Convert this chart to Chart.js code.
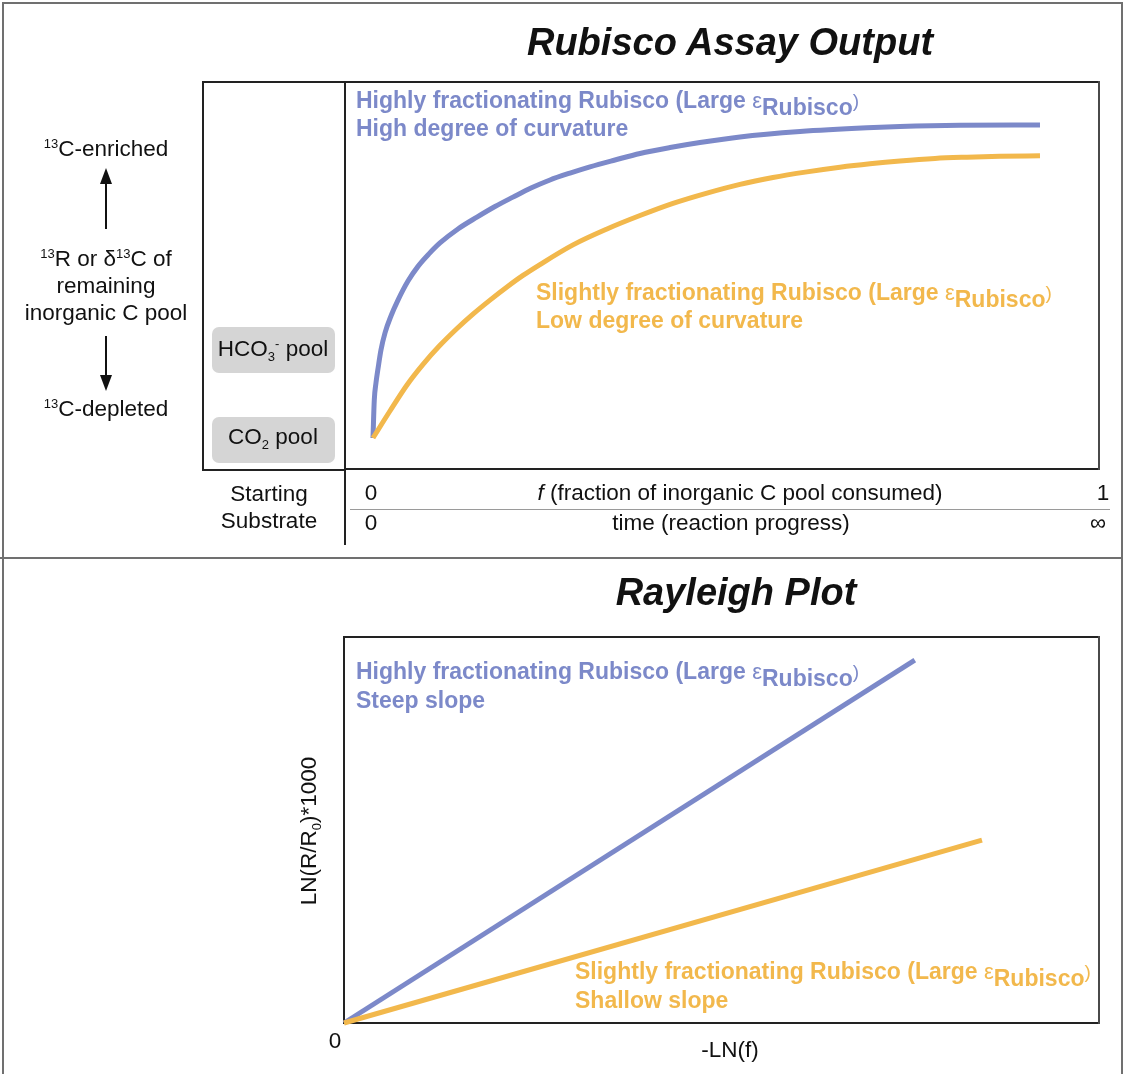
<!DOCTYPE html>
<html>
<head>
<meta charset="utf-8">
<script src="https://cdn.jsdelivr.net/npm/chart.js@4.4.1/dist/chart.umd.min.js"></script>
<style>
  body { margin: 0; background: #fff; }
  #wrap { position: relative; width: 1123px; height: 1074px; overflow: hidden; background: #fff;
          font-family: "Liberation Sans", Arial, Helvetica, sans-serif; color: #111; }
  canvas { position: absolute; left: 0; }
  .t { position: absolute; white-space: nowrap; line-height: 1; }
  .ln { position: absolute; }
  .pool { position: absolute; background: #d5d5d5; border-radius: 7px; }
  .eps { font-weight: normal; font-size: 22px; }
  .rsub { position: relative; top: 7px; }
  .par { font-weight: normal; font-size: 19px; position: relative; top: -1px; }
  .sup { font-size: 13px; position: relative; top: -8px; }
  .sub { font-size: 13px; position: relative; top: 5px; }
</style>
</head>
<body>
<div id="wrap">
  <div class="ln" style="left:2px;top:2px;width:1117px;height:1090px;border:2px solid #707070;"></div>
  <div class="ln" style="left:0;top:557px;width:1123px;height:2px;background:#707070;"></div>
  <div class="ln" style="left:202px;top:81px;width:141px;height:386px;border:2px solid #222;border-right:none;"></div>
  <div class="ln" style="left:344px;top:469px;width:2px;height:76px;background:#222;"></div>
  <div class="ln" style="left:350px;top:509px;width:760px;height:1px;background:#9a9a9a;"></div>
  <div class="pool" style="left:212px;top:327px;width:123px;height:46px;"></div>
  <div class="pool" style="left:212px;top:417px;width:123px;height:46px;"></div>
  <svg class="ln" style="left:0;top:0" width="220" height="420">
    <line x1="106" y1="229" x2="106" y2="180" stroke="#111" stroke-width="2"/>
    <polygon points="106,168 100,184 112,184" fill="#111"/>
    <line x1="106" y1="336" x2="106" y2="378" stroke="#111" stroke-width="2"/>
    <polygon points="106,391 100,375 112,375" fill="#111"/>
  </svg>
  <canvas id="assay" width="1123" height="559" style="top:0"></canvas>
  <canvas id="rayleigh" width="1123" height="515" style="top:559px"></canvas>
</div>
<script>
// f (fraction of inorganic C pool consumed) vs remaining pool isotope value (arbitrary units)
const fHigh = [0, 0.0018, 0.0041, 0.0073, 0.0110, 0.0166, 0.0248, 0.0345, 0.0483, 0.0621, 0.0772, 0.0924,
               0.1172, 0.1434, 0.1683, 0.1931, 0.2179, 0.2441, 0.2717, 0.2993, 0.3338, 0.3683, 0.4097,
               0.4510, 0.5062, 0.5890, 0.6814, 0.7269, 0.8097, 0.92];
const deltaHigh = [0, 12.2, 17.6, 22.8, 28.2, 33.7, 39.1, 44.2, 50.3, 55.0, 59.0, 62.5,
                   67.0, 70.8, 74.2, 77.2, 80.1, 82.7, 84.9, 86.9, 89.1, 91.2, 93.1,
                   94.7, 96.5, 98.2, 99.4, 99.8, 100.2, 100.3];
const fLow = [0, 0.0234, 0.0469, 0.0690, 0.0924, 0.1159, 0.1379, 0.1614, 0.1848, 0.2069, 0.2303, 0.2759,
              0.3228, 0.3683, 0.4138, 0.4607, 0.5062, 0.5517, 0.5986, 0.6441, 0.6855, 0.7269, 0.7752,
              0.8193, 0.8648, 0.92];
const deltaLow = [0, 8.65, 17.0, 23.6, 29.7, 35.1, 39.7, 44.2, 48.4, 52.1, 55.6, 61.9,
                  67.0, 71.3, 75.2, 78.5, 81.3, 83.5, 85.3, 86.8, 87.9, 88.8, 89.6,
                  90.0, 90.3, 90.45];

// Rayleigh plot: -LN(f) vs LN(R/R0)*1000 (arbitrary units)
const lnfHigh = [0, 0.756];
const lnRHigh = [0, 0.940];
const lnfLow = [0, 0.845];
const lnRLow = [0, 0.474];

const fTickLabels = ['0', '1'];
const timeTickLabels = ['0', '\u221e'];

const BLUE = '#7c89c9';
const ORANGE = '#f2b84c';

function pts(xs, ys) {
    return xs.map((x, i) => ({ x: x, y: ys[i] }));
}

const boxBorder = {
    id: 'boxBorder',
    beforeDatasetsDraw(chart) {
        const a = chart.chartArea;
        const ctx = chart.ctx;
        ctx.save();
        ctx.lineWidth = 2;
        ctx.strokeStyle = '#222';
        ctx.beginPath();
        ctx.moveTo(a.right, a.top);
        ctx.lineTo(a.left, a.top);
        ctx.lineTo(a.left, a.bottom);
        ctx.lineTo(a.right, a.bottom);
        ctx.stroke();
        ctx.strokeStyle = '#4a4a4a';
        ctx.beginPath();
        ctx.moveTo(a.right, a.top - 1);
        ctx.lineTo(a.right, a.bottom + 1);
        ctx.stroke();
        ctx.restore();
    }
};

function lineSet(data, color, order) {
    return {
        data: data,
        borderColor: color,
        borderWidth: 5,
        pointRadius: 0,
        fill: false,
        cubicInterpolationMode: 'monotone',
        borderCapStyle: 'butt',
        clip: 8,
        order: order
    };
}

function baseOptions(pad, xr, yr) {
    return {
        responsive: false,
        animation: false,
        events: [],
        layout: { padding: pad },
        plugins: { legend: { display: false }, tooltip: { enabled: false } },
        scales: {
            x: { type: 'linear', display: false, min: xr[0], max: xr[1] },
            y: { type: 'linear', display: false, min: yr[0], max: yr[1] }
        }
    };
}

new Chart(document.getElementById('assay'), {
    type: 'line',
    data: {
        datasets: [
            lineSet(pts(fHigh, deltaHigh), BLUE, 2),
            lineSet(pts(fLow, deltaLow), ORANGE, 1)
        ]
    },
    options: baseOptions({ left: 345, right: 24, top: 82, bottom: 90 }, [-0.0386, 1.0014], [-9.94, 114.1]),
    plugins: [boxBorder]
});

new Chart(document.getElementById('rayleigh'), {
    type: 'line',
    data: {
        datasets: [
            lineSet(pts(lnfHigh, lnRHigh), BLUE, 2),
            lineSet(pts(lnfLow, lnRLow), ORANGE, 1)
        ]
    },
    options: baseOptions({ left: 344, right: 24, top: 78, bottom: 51 }, [0, 1], [0, 1]),
    plugins: [boxBorder]
});

// text labels
const wrap = document.getElementById('wrap');
function addText(html, x, baseline, size, opts) {
    opts = opts || {};
    const d = document.createElement('div');
    d.className = 't';
    d.innerHTML = html;
    d.style.fontSize = size + 'px';
    d.style.left = x + 'px';
    d.style.top = (baseline - 0.8465 * size) + 'px';
    if (opts.bold) d.style.fontWeight = 'bold';
    if (opts.italic) d.style.fontStyle = 'italic';
    if (opts.color) d.style.color = opts.color;
    if (opts.center) d.style.transform = 'translateX(-50%)';
    wrap.appendChild(d);
    return d;
}

const eps = '<span class="eps">\u03b5</span><span class="rsub">Rubisco</span><span class="par">)</span>';
const R = 22.5;
const B = 23;

addText('Rubisco Assay Output', 730, 55, 38, { bold: true, italic: true, center: true });
addText('Rayleigh Plot', 736, 605, 38, { bold: true, italic: true, center: true });

addText('<span class="sup">13</span>C-enriched', 106, 157, R, { center: true });
addText('<span class="sup">13</span>R or \u03b4<span class="sup">13</span>C of', 106, 267, R, { center: true });
addText('remaining', 106, 294, R, { center: true });
addText('inorganic C pool', 106, 321, R, { center: true });
addText('<span class="sup">13</span>C-depleted', 106, 417, R, { center: true });

addText('HCO<span class="sub">3</span><span class="sup">-</span> pool', 273, 357, R, { center: true });
addText('CO<span class="sub">2</span> pool', 273, 445, R, { center: true });

addText('Starting', 269, 502, R, { center: true });
addText('Substrate', 269, 529, R, { center: true });

addText(fTickLabels[0], 371, 501, R, { center: true });
addText('<i>f</i> (fraction of inorganic C pool consumed)', 740, 501, R, { center: true });
addText(fTickLabels[1], 1103, 501, R, { center: true });
addText(timeTickLabels[0], 371, 531, R, { center: true });
addText('time (reaction progress)', 731, 531, R, { center: true });
addText(timeTickLabels[1], 1098, 531, R, { center: true });

addText('Highly fractionating Rubisco (Large ' + eps, 356, 108, B, { bold: true, color: BLUE });
addText('High degree of curvature', 356, 136, B, { bold: true, color: BLUE });
addText('Slightly fractionating Rubisco (Large ' + eps, 536, 300, B, { bold: true, color: ORANGE });
addText('Low degree of curvature', 536, 328, B, { bold: true, color: ORANGE });

addText('Highly fractionating Rubisco (Large ' + eps, 356, 679, B, { bold: true, color: BLUE });
addText('Steep slope', 356, 708, B, { bold: true, color: BLUE });
addText('Slightly fractionating Rubisco (Large ' + eps, 575, 979, B, { bold: true, color: ORANGE });
addText('Shallow slope', 575, 1008, B, { bold: true, color: ORANGE });

addText('0', 335, 1049, R, { center: true });
addText('-LN(f)', 730, 1058, R, { center: true });

const yl = addText('LN(R/R<span class="sub">0</span>)*1000', 309, 840, R, {});
yl.style.transform = 'translate(-50%, -50%) rotate(-90deg)';
yl.style.top = '831px';
</script>
</body>
</html>
